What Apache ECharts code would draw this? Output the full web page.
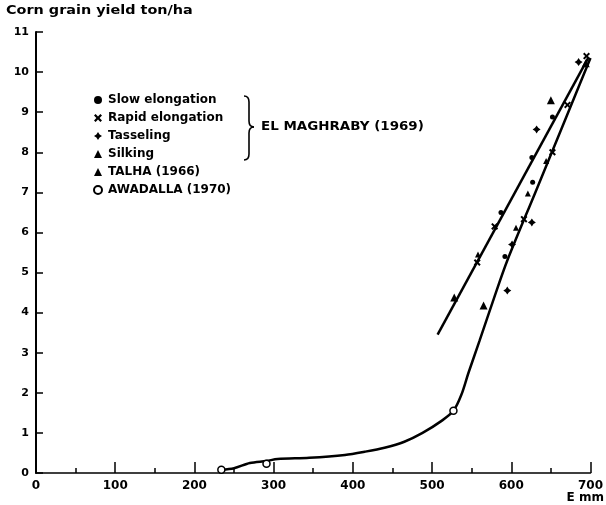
<!DOCTYPE html>
<html>
<head>
<meta charset="utf-8">
<script src="https://cdn.jsdelivr.net/npm/echarts@6/dist/echarts.min.js"></script>
<style>
  html, body { margin: 0; padding: 0; background: #fff; }
  #chart { width: 606px; height: 505px; }
</style>
</head>
<body>
<div id="chart"></div>
<script>
// Water use E (mm) against corn grain yield (ton/ha)
const xTicks = [0, 100, 200, 300, 400, 500, 600, 700];
const yTicks = [0, 1, 2, 3, 4, 5, 6, 7, 8, 9, 10, 11];

// El Maghraby (1969), stress imposed at different growth stages
const slowElongation  = [[587, 6.5], [592, 5.4], [627, 7.25], [626, 7.87], [652, 8.88]];
const rapidElongation = [[557, 5.25], [579, 6.15], [616, 6.33], [652, 8.0], [671, 9.18], [695, 10.4]];
const tasseling       = [[595, 4.55], [601, 5.7], [626, 6.25], [632, 8.57], [685, 10.25]];
const silking         = [[558, 5.45], [606, 6.12], [621, 6.97], [644, 7.78]];
// Talha (1966) and Awadalla (1970)
const talha    = [[528, 4.38], [565, 4.18], [650, 9.3], [694, 10.22]];
const awadalla = [[234, 0.08], [291, 0.23], [527, 1.55]];

// Fitted curves
const upperFit = [[507, 3.45], [697, 10.35]];
const lowerFit = [[234, 0.08], [250, 0.12], [270, 0.25], [291, 0.3], [305, 0.35], [345, 0.38],
                  [390, 0.45], [415, 0.53], [440, 0.63], [465, 0.78], [488, 1.0], [512, 1.3],
                  [527, 1.55], [537, 1.95], [546, 2.5], [560, 3.3], [578, 4.35], [595, 5.3],
                  [630, 6.98], [666, 8.71], [700, 10.35]];

const FONT = 'DejaVu Sans';
const INK = '#000';

const crossPath = 'path://M0,2 L2,0 L5,3 L8,0 L10,2 L7,5 L10,8 L8,10 L5,7 L2,10 L0,8 L3,5 Z';
const starPath = 'path://M5,0 L7,3 L10,5 L7,7 L5,10 L3,7 L0,5 L3,3 Z';

function pts(name, data, symbol, size, hollow) {
  return {
    name: name,
    type: 'scatter',
    data: data,
    symbol: symbol,
    symbolSize: size,
    itemStyle: hollow
      ? { color: '#fff', borderColor: INK, borderWidth: 1.5, opacity: 1 }
      : { color: INK, opacity: 1 },
    z: 5
  };
}

// curly brace grouping the El Maghraby stages
const braceStyle = { fill: null, stroke: INK, lineWidth: 1.6 };
const bx = 244, by0 = 96, byMid = 127, by1 = 160;
const brace = [
  { type: 'bezierCurve', shape: { x1: bx, y1: by0, cpx1: bx + 5, cpy1: by0, x2: bx + 5, y2: by0 + 6 }, style: braceStyle },
  { type: 'line', shape: { x1: bx + 5, y1: by0 + 6, x2: bx + 5, y2: byMid - 6 }, style: braceStyle },
  { type: 'bezierCurve', shape: { x1: bx + 5, y1: byMid - 6, cpx1: bx + 5, cpy1: byMid, x2: bx + 10, y2: byMid }, style: braceStyle },
  { type: 'bezierCurve', shape: { x1: bx + 10, y1: byMid, cpx1: bx + 5, cpy1: byMid, x2: bx + 5, y2: byMid + 6 }, style: braceStyle },
  { type: 'line', shape: { x1: bx + 5, y1: byMid + 6, x2: bx + 5, y2: by1 - 6 }, style: braceStyle },
  { type: 'bezierCurve', shape: { x1: bx + 5, y1: by1 - 6, cpx1: bx + 5, cpy1: by1, x2: bx, y2: by1 }, style: braceStyle }
];

const chart = echarts.init(document.getElementById('chart'), null, { renderer: 'canvas' });

chart.setOption({
  animation: false,
  backgroundColor: '#fff',
  grid: { left: 36, right: 12, top: 32, bottom: 32 },
  xAxis: {
    type: 'value',
    min: xTicks[0],
    max: xTicks[xTicks.length - 1],
    interval: 100,
    axisLine: { lineStyle: { color: INK, width: 1.5 } },
    axisTick: { inside: true, length: 11, lineStyle: { color: INK, width: 1.5 } },
    minorTick: { show: true, splitNumber: 2, length: 5, lineStyle: { color: INK, width: 1.5 } },
    axisLabel: { color: INK, fontFamily: FONT, fontWeight: 'bold', fontSize: 12, margin: 7 },
    splitLine: { show: false }
  },
  yAxis: {
    type: 'value',
    min: yTicks[0],
    max: yTicks[yTicks.length - 1],
    interval: 1,
    axisLine: { lineStyle: { color: INK, width: 2 } },
    axisTick: { inside: true, length: 7, lineStyle: { color: INK, width: 1.5 } },
    axisLabel: { color: INK, fontFamily: FONT, fontWeight: 'bold', fontSize: 11, margin: 7 },
    splitLine: { show: false }
  },
  legend: {
    orient: 'vertical',
    left: 88,
    top: 89,
    itemGap: 6,
    itemWidth: 8,
    itemHeight: 8,
    textStyle: { color: INK, fontFamily: FONT, fontWeight: 'bold', fontSize: 12, padding: [0, 0, 0, 1] },
    data: ['Slow elongation', 'Rapid elongation', 'Tasseling', 'Silking', 'TALHA (1966)', 'AWADALLA (1970)']
  },
  graphic: [
    {
      type: 'text', x: 6, y: 11, scaleX: 1.2,
      style: { text: 'Corn grain yield ton/ha', fill: INK, font: 'bold 12px "DejaVu Sans"', textVerticalAlign: 'middle' }
    },
    {
      type: 'text', x: 604, y: 498,
      style: { text: 'E mm', fill: INK, font: 'bold 12px "DejaVu Sans"', textAlign: 'right', textVerticalAlign: 'middle' }
    },
    {
      type: 'text', x: 261, y: 127, scaleX: 1.12,
      style: { text: 'EL MAGHRABY (1969)', fill: INK, font: 'bold 12px "DejaVu Sans"', textVerticalAlign: 'middle' }
    }
  ].concat(brace),
  series: [
    {
      name: 'upper fit', type: 'line', data: upperFit, showSymbol: false,
      lineStyle: { color: INK, width: 2.5 }, z: 3, silent: true
    },
    {
      name: 'lower fit', type: 'line', data: lowerFit, showSymbol: false, smooth: 0.3,
      lineStyle: { color: INK, width: 2.5 }, z: 3, silent: true
    },
    pts('Slow elongation', slowElongation, 'circle', 5),
    pts('Rapid elongation', rapidElongation, crossPath, 7),
    pts('Tasseling', tasseling, starPath, 8),
    pts('Silking', silking, 'triangle', 6),
    pts('TALHA (1966)', talha, 'triangle', 8),
    pts('AWADALLA (1970)', awadalla, 'circle', 7, true)
  ]
});
</script>
</body>
</html>
